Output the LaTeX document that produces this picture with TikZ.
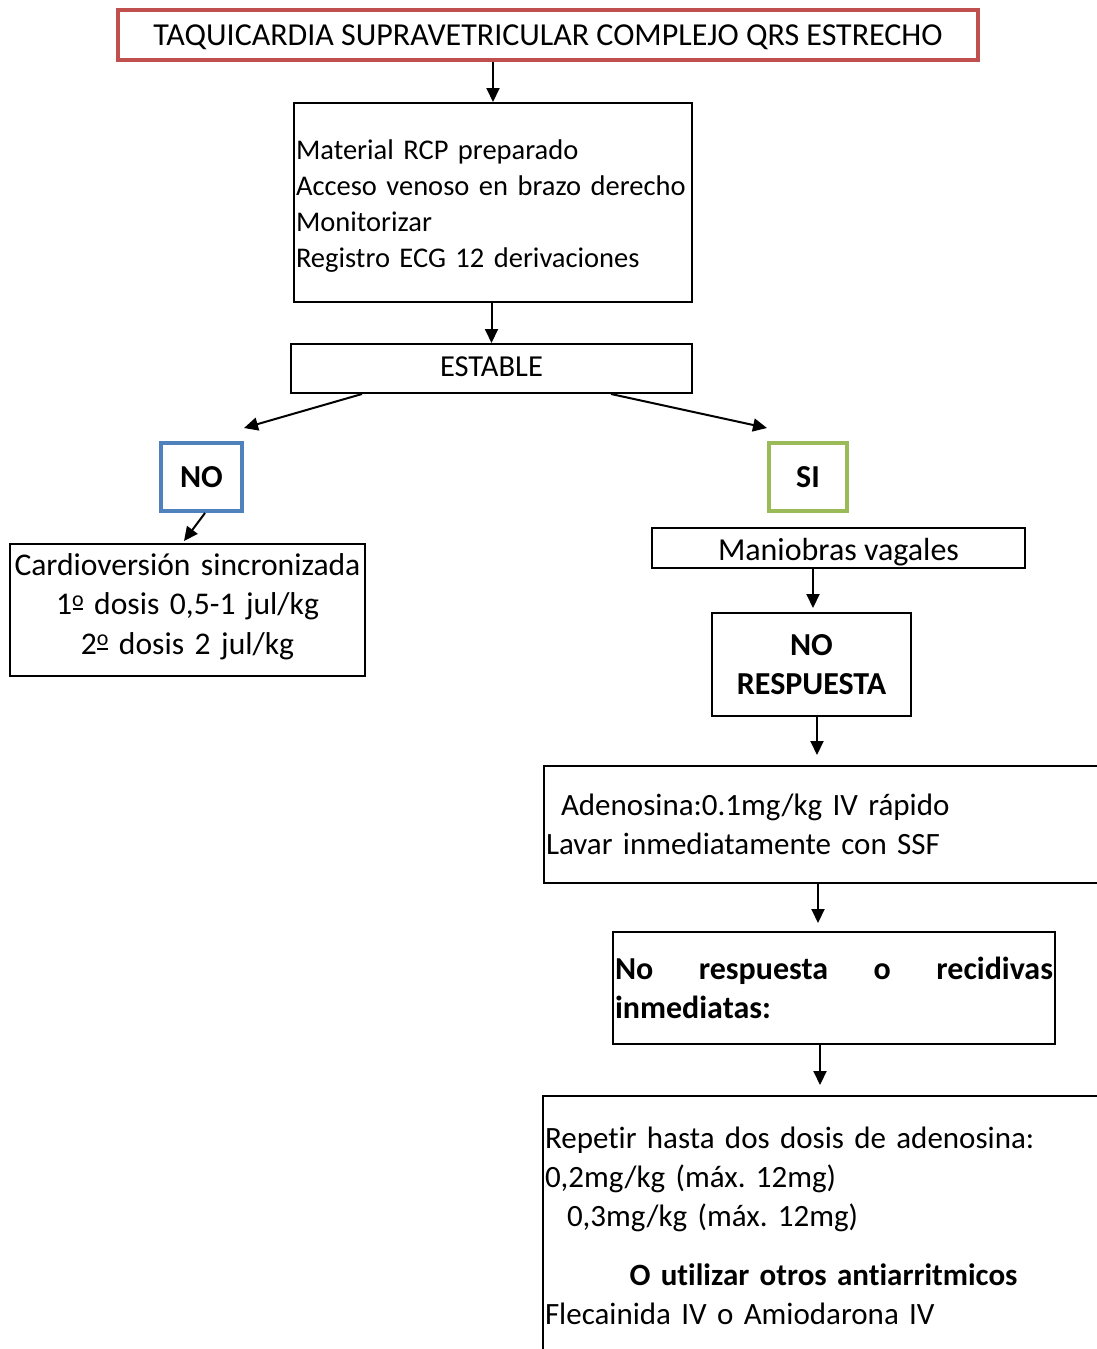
\documentclass[tikz,border=0pt]{standalone}
\usepackage{fontspec}
\setmainfont{Carlito}[Ligatures=NoCommon]
\usetikzlibrary{arrows.meta,calc}
\definecolor{boxred}{HTML}{C0504D}
\definecolor{boxblue}{HTML}{4F81BD}
\definecolor{boxgreen}{HTML}{9BBB59}
% masculine ordinal: raised small o with a bar underneath
\newcommand\ordmasc{\raisebox{8.5pt}{\fontsize{22pt}{22pt}\selectfont o}\llap{\rule[4.5pt]{10.5pt}{2pt}\hspace*{0.6pt}}}
\frenchspacing
\begin{document}
\begin{tikzpicture}[x=1pt,y=-1pt,
  box/.style={draw=black, line width=2pt, rectangle, inner sep=0pt,
    font=\fontsize{32pt}{39pt}\selectfont},
  colbox/.style={box, line width=4pt, font=\fontsize{32pt}{39pt}\selectfont\bfseries},
  arr/.style={line width=2pt, -{Triangle[length=14pt,width=13pt]}}]
\useasboundingbox (0,0) rectangle (1097,1349);

% boxes
\node[box, draw=boxred, line width=4pt, minimum width=860pt, minimum height=50pt]
  (title) at (548,35) {\rule{0pt}{25pt}TAQUICARDIA SUPRAVETRICULAR COMPLEJO QRS ESTRECHO};
\node[box, minimum width=398pt, minimum height=199pt, text width=394pt, align=left,
  font=\fontsize{28.5pt}{36pt}\selectfont]
  (prep) at (493,202.5) {\rule{0pt}{27.5pt}Material RCP preparado\\\mbox{Acceso venoso en brazo derecho}\\Monitorizar\\Registro ECG 12 derivaciones};
\node[box, minimum width=401pt, minimum height=49pt, font=\fontsize{30.5pt}{36pt}\selectfont]
  (estable) at (491.5,368.5) {ESTABLE\rule[-4pt]{0pt}{0pt}};
\node[colbox, draw=boxblue, minimum width=81pt, minimum height=68pt] (nobox) at (201.5,477) {NO};
\node[colbox, draw=boxgreen, minimum width=78pt, minimum height=68pt] (sibox) at (808,477) {SI};
\node[box, minimum width=355pt, minimum height=132pt, text width=351pt, align=center,
  font=\fontsize{31.6pt}{39.5pt}\selectfont]
  (cardio) at (187.5,610) {Cardioversión sincronizada\\1\ordmasc{} dosis 0,5-1 jul/kg\\2\ordmasc{} dosis 2 jul/kg\rule[-12pt]{0pt}{0pt}};
\node[box, minimum width=373pt, minimum height=40pt] (mani) at (838.5,548) {\rule{0pt}{31pt}Maniobras vagales};
\node[box, minimum width=199pt, minimum height=103pt, text width=195pt, align=center,
  font=\fontsize{32pt}{39pt}\selectfont\bfseries]
  (nores) at (811.5,664.5) {NO\\RESPUESTA};
\node[box, minimum width=561pt, minimum height=117pt, text width=557pt, align=left,
  font=\fontsize{31pt}{39pt}\selectfont]
  (aden) at (824.5,824.5) {\hspace*{15pt}Adenosina:0.1mg/kg IV rápido\\Lavar inmediatamente con SSF};
\node[box, minimum width=442pt, minimum height=112pt, text width=438pt, align=left,
  font=\fontsize{32pt}{39pt}\selectfont\bfseries]
  (recid) at (834,988) {\makebox[438pt][l]{No\hfill respuesta\hfill o\hfill recidivas}\\inmediatas:};
\node[box, minimum width=561pt, minimum height=264pt, text width=557pt, align=left,
  font=\fontsize{31pt}{39pt}\selectfont]
  (repetir) at (823.5,1228) {Repetir hasta dos dosis de adenosina:\\0,2mg/kg (máx. 12mg)\\\hspace*{22pt}0,3mg/kg (máx. 12mg)\\[20pt]\makebox[557pt][c]{\bfseries O utilizar otros antiarritmicos}\\Flecainida IV o Amiodarona IV\rule[-5pt]{0pt}{0pt}};

% connectors
\draw[arr] (title.south -| prep.north) -- (prep.north);
\draw[arr] (prep.south -| estable.north) -- (estable.north);
\draw[arr] ($(estable.south west)+(72,0)$) -- ($(nobox.north east)+(0,-13)$);
\draw[arr] ($(estable.south west)+(321,0)$) -- ($(sibox.north west)+(0,-13)$);
\draw[arr] ($(nobox.south)+(3.5,0)$) -- ($(cardio.north)+(-3.5,-2)$);
\coordinate (mn) at ($(mani.south)+(-25.5,0)$);
\draw[arr, shorten >=4pt] (mn) -- (mn |- nores.north);
\coordinate (na) at ($(nores.south)+(5.5,0)$);
\draw[arr, shorten >=10pt] (na) -- (na |- aden.north);
\coordinate (ar) at ($(aden.south)+(-6.5,0)$);
\draw[arr, shorten >=8pt] (ar) -- (ar |- recid.north);
\coordinate (rr) at ($(recid.south)+(-14,0)$);
\draw[arr, shorten >=10pt] (rr) -- (rr |- repetir.north);
\end{tikzpicture}
\end{document}
